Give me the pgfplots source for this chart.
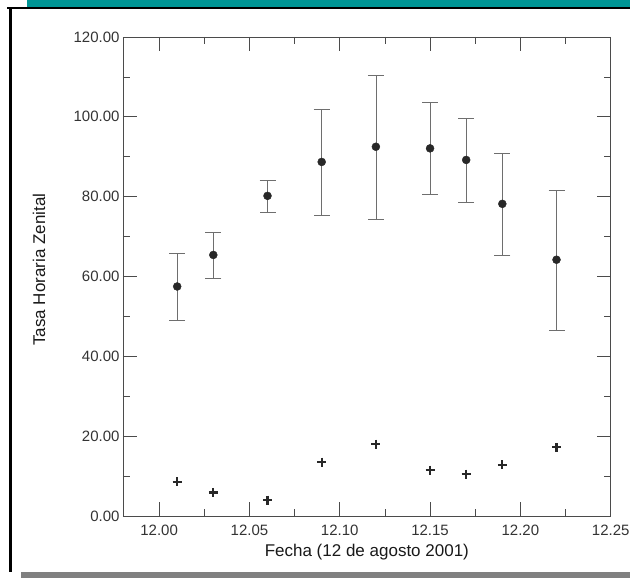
\documentclass[border=0pt]{standalone}
\usepackage{pgfplots}
\pgfplotsset{compat=1.18}
\usepackage{fontspec}
\setmainfont{Liberation Sans}

\definecolor{bandteal}{RGB}{0,150,150}
\definecolor{bandgray}{RGB}{128,128,128}
\definecolor{axisgray}{RGB}{75,75,75}
\definecolor{errgray}{RGB}{110,110,110}
\definecolor{dotgray}{RGB}{40,40,40}

% Tasa horaria zenital: fecha, THZ, error
\pgfplotstableread{
x      y     ep    em
12.01  57.5  8.3   8.6
12.03  65.4  5.7   5.9
12.06  80.2  3.8   4.2
12.09  88.7  13.2  13.5
12.12  92.5  18.0  18.3
12.15  92.1  11.5  11.6
12.17  89.2  10.5  10.6
12.19  78.2  12.7  13.0
12.22  64.2  17.3  17.6
}\thz

% segunda serie (cruces)
\pgfplotstableread{
x      y
12.01  8.6
12.03  5.9
12.06  4.0
12.09  13.5
12.12  18.0
12.15  11.5
12.17  10.5
12.19  12.8
12.22  17.2
}\cruces

\begin{document}
\begin{tikzpicture}
\path[use as bounding box] (0pt,0pt) rectangle (630pt,578pt);
% marco de la diapositiva
\fill[bandteal] (27pt,571pt) rectangle (630pt,578pt);
\draw[line width=2pt] (7pt,569.5pt) -- (630pt,569.5pt);
\draw[line width=3pt] (10.5pt,570pt) -- (10.5pt,6pt);
\fill[bandgray] (21pt,0pt) rectangle (630pt,6pt);

\begin{axis}[
  at={(123pt,62pt)}, anchor=south west,
  scale only axis, width=487.7pt, height=479pt,
  xmin=11.98, xmax=12.25, ymin=0, ymax=120,
  xtick={12.00,12.05,...,12.25}, ytick={0,20,...,120},
  minor x tick num=1, minor y tick num=1,
  tick align=inside,
  major tick length=14pt, minor tick length=7pt,
  axis line style={axisgray, line width=0.8pt},
  every tick/.style={axisgray, line width=0.8pt},
  /pgf/number format/.cd, fixed, zerofill, precision=2, assume math mode=true,
  /pgfplots/.cd,
  tick label style={font=\fontsize{15}{18}\selectfont, text=black!80},
  xticklabel style={yshift=-5pt},
  xlabel={Fecha (12 de agosto 2001)},
  ylabel={Tasa Horaria Zenital},
  label style={font=\fontsize{17}{20}\selectfont, text=black!90},
  xlabel style={at={(axis description cs:0.5,-0.075)}, anchor=center},
  ylabel style={at={(axis description cs:-0.172,0.514)}, anchor=center, rotate=0},
  clip=false,
]
\addplot[only marks, mark=*, mark size=4pt, mark options={dotgray, fill=dotgray},
  error bars/.cd, y dir=both, y explicit,
  error bar style={errgray, line width=0.6pt},
  error mark options={rotate=90, mark size=8pt, errgray, line width=0.8pt}]
  table[x=x, y=y, y error plus=ep, y error minus=em] {\thz};
\addplot[only marks, mark=+, mark size=4.5pt, mark options={dotgray, line width=2.2pt}]
  table[x=x, y=y] {\cruces};
\end{axis}
\end{tikzpicture}
\end{document}
